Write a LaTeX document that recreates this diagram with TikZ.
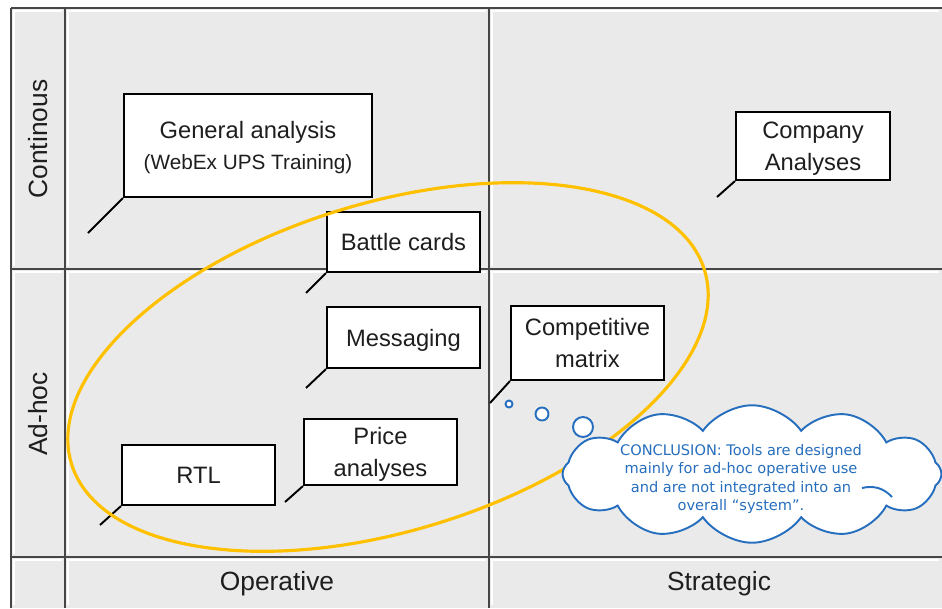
\documentclass[tikz,border=0pt]{standalone}
\usepackage{fontspec}
\setmainfont{Liberation Sans}
\newfontfamily\cloudfont{DejaVu Sans}
\usetikzlibrary{shapes.symbols}
\definecolor{cellgray}{RGB}{234,234,234}
\definecolor{gridc}{RGB}{70,70,70}
\definecolor{ringc}{RGB}{255,192,0}
\definecolor{cloudc}{RGB}{38,110,190}
\definecolor{txt}{RGB}{30,30,30}
\begin{document}
\begin{tikzpicture}[x=0.02cm,y=-0.02cm,
  callout/.style={draw=black, line width=1.2pt, fill=white, align=center, inner sep=0pt, text depth=0pt, text=txt, font=\fontsize{13.5}{18}\selectfont},
  tail/.style={line width=1.1pt, black},
  axislabel/.style={text=txt, font=\fontsize{15}{18}\selectfont, inner sep=0pt},
  gridline/.style={gridc, line width=0.9pt},
  bubble/.style={draw=cloudc, line width=1.1pt, fill=white, circle, inner sep=0pt}]

\useasboundingbox (0,0) rectangle (942,608);
\fill[white] (0,0) rectangle (942,608);
\fill[cellgray] (11,8) rectangle (942,608);
\foreach \xa/\xb in {11/65, 65/489, 489/942} {
  \foreach \ya/\yb in {8/269, 269/557, 557/608} {
    \draw[white, line width=1.2pt] (\xa+3,\yb-3) -- (\xa+3,\ya+3) -- (\xb-3,\ya+3);
  }
}
\draw[gridline] (11,8) -- (11,608) (65,8) -- (65,608) (489,8) -- (489,608)
  (11,8) -- (942,8) (11,269) -- (942,269) (11,557) -- (942,557);

\node[axislabel, rotate=90] (lcont) at (38,139) {Continous};
\node[axislabel, rotate=90] (ladhoc) at (38,414) {Ad-hoc};
\node[axislabel] (lop) at (277,584) {Operative};
\node[axislabel] (lstr) at (719,584) {Strategic};

\node[callout, minimum width=4.96cm, minimum height=2.06cm] (gen) at (248,145.5)
  {General analysis\\{\fontsize{11.8}{17}\selectfont (WebEx UPS Training)}};
\node[callout, minimum width=3.06cm, minimum height=1.2cm] (battle) at (403.5,242) {Battle cards};
\node[callout, minimum width=3.06cm, minimum height=1.22cm] (msg) at (403.5,337.5) {Messaging};
\node[callout, minimum width=3.06cm, minimum height=1.48cm] (comp) at (587.5,343) {Competitive\\matrix};
\node[callout, minimum width=3.08cm, minimum height=1.36cm] (company) at (813,146) {Company\\Analyses};
\node[callout, minimum width=3.06cm, minimum height=1.2cm] (rtl) at (198.5,475) {RTL};
\node[callout, minimum width=3.06cm, minimum height=1.32cm] (price) at (380.5,452) {Price\\analyses};

\coordinate (genT) at (88,233);
\coordinate (battleT) at (306,293);
\coordinate (msgT) at (306,388);
\coordinate (compT) at (490,403);
\coordinate (companyT) at (717,197);
\coordinate (rtlT) at (100,525);
\coordinate (priceT) at (285,502);
\draw[tail] (gen.south west) -- (genT);
\draw[tail] (battle.south west) -- (battleT);
\draw[tail] (msg.south west) -- (msgT);
\draw[tail] (comp.south west) -- (compT);
\draw[tail] (company.south west) -- (companyT);
\draw[tail] (rtl.south west) -- (rtlT);
\draw[tail] (price.south west) -- (priceT);

\draw[ringc, line width=1.8pt] (388,367) ellipse [x radius=331, y radius=164, rotate=17];

\node[bubble, minimum size=0.14cm] (b1) at (509,404) {};
\node[bubble, minimum size=0.26cm] (b2) at (542,414) {};
\node[bubble, minimum size=0.40cm] (b3) at (583,427) {};

\node[cloud, cloud puffs=12, cloud puff arc=110, cloud ignores aspect, draw=cloudc, fill=white,
  line width=1.1pt, minimum width=7.58cm, minimum height=2.75cm, inner sep=0pt] (cloud) at (752,474) {};
\draw[cloudc, line width=1.1pt] (862,488) to[bend left=30] (892,497);
\node[text=cloudc, align=center, font=\cloudfont\fontsize{8.3}{10.6}\selectfont] (concl) at (741,479)
  {CONCLUSION: Tools are designed\\mainly for ad-hoc operative use\\and are not integrated into an\\overall “system”.};
\end{tikzpicture}
\end{document}
